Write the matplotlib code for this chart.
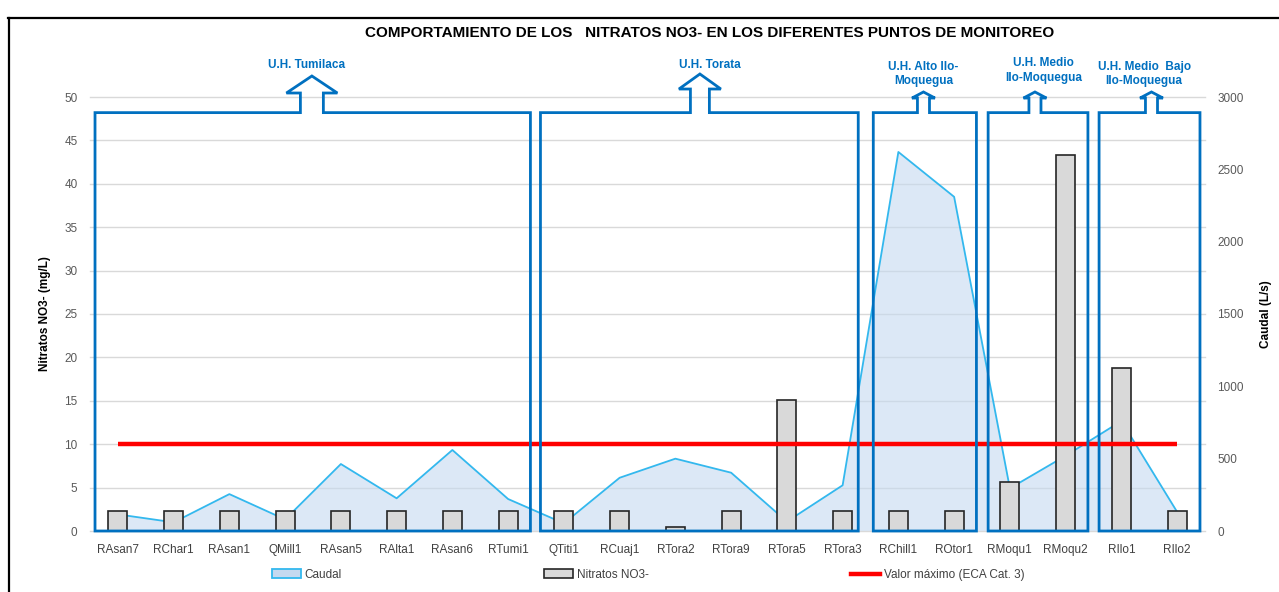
import matplotlib
matplotlib.use("Agg")
import matplotlib.pyplot as plt
from matplotlib.path import Path
from matplotlib.patches import PathPatch, Patch
from matplotlib.lines import Line2D
from matplotlib.ticker import MultipleLocator
import numpy as np

plt.rcParams['font.family'] = ['Liberation Sans', 'DejaVu Sans']

# ---------------- data ----------------
categories = ["RAsan7", "RChar1", "RAsan1", "QMill1", "RAsan5", "RAlta1", "RAsan6", "RTumi1",
              "QTiti1", "RCuaj1", "RTora2", "RTora9", "RTora5", "RTora3",
              "RChill1", "ROtor1", "RMoqu1", "RMoqu2", "RIlo1", "RIlo2"]
nitratos = [2.3, 2.3, 2.3, 2.3, 2.3, 2.3, 2.3, 2.3,
            2.3, 2.3, 0.5, 2.3, 15.1, 2.3,
            2.3, 2.3, 5.7, 43.3, 18.8, 2.3]
caudal = [115, 60, 255, 80, 463, 226, 560, 221,
          53, 368, 500, 403, 65, 316,
          2620, 2310, 295, 520, 760, 132]
eca_max = 10
units = ["U.H. Tumilaca", "U.H. Torata", "U.H. Alto Ilo-\nMoquegua",
         "U.H. Medio\nIlo-Moquegua", "U.H. Medio  Bajo\nIlo-Moquegua"]
left_ticks = list(range(0, 51, 5))
right_ticks = list(range(0, 3001, 500))

title = "COMPORTAMIENTO DE LOS   NITRATOS NO3- EN LOS DIFERENTES PUNTOS DE MONITOREO"

# ---------------- layout ----------------
W, H = 1279, 592
fig = plt.figure(figsize=(W / 100, H / 100), dpi=100)
fig.patch.set_facecolor("white")

L, R, T, B = 90, 1205, 97, 531
ax2 = fig.add_axes([L / W, 1 - B / H, (R - L) / W, (B - T) / H])
ax = ax2.twinx()  # shares x
ax.set_zorder(ax2.get_zorder() + 1)
ax.patch.set_visible(False)

x = np.arange(len(categories))

# caudal area (right axis) drawn on ax2 (bottom layer)
ax2.fill_between(x, caudal, 0, facecolor="#c5d9f0", alpha=0.6, lw=0, zorder=2)
ax2.plot(x, caudal, color="#33b8ee", lw=1.3, zorder=3)
ax2.set_ylim(0, 3000)
ax2.set_xlim(-0.5, len(categories) - 0.5)
ax2.set_yticks(right_ticks)
ax2.yaxis.tick_right()
ax2.yaxis.set_label_position("right")
ax2.tick_params(axis="y", length=0, labelsize=8.5, labelcolor="#595959", pad=9)
ax2.set_xticks(x)
ax2.set_xticklabels(categories)
ax2.tick_params(axis="x", length=0, labelsize=8.5, labelcolor="#404040", pad=16)
for lab in ax2.get_xticklabels():
    lab.set_verticalalignment("baseline")
ax2.set_ylabel("Caudal (L/s)", fontsize=8.5, fontweight="bold", labelpad=11.5)
for s in ax2.spines.values():
    s.set_visible(False)

# gridlines at the left-axis tick levels (behind the area)
for v in left_ticks:
    ax2.plot([0, 1], [v, v], transform=ax.get_yaxis_transform(), color="#d9d9d9",
             lw=1.0, zorder=0.5, clip_on=False)

# bars and ECA line on ax (left axis, top layer)
ax.bar(x, nitratos, width=0.34, color="#d9d9d9", edgecolor="#262626", lw=1.2, zorder=3)
ax.plot([x[0], x[-1]], [eca_max, eca_max], color="#ff0000", lw=3.2, zorder=4,
        solid_capstyle="butt")
ax.set_ylim(0, 50)
ax.set_xlim(-0.5, len(categories) - 0.5)
ax.yaxis.tick_left()
ax.yaxis.set_label_position("left")
ax.set_yticks(left_ticks)
ax.tick_params(axis="y", length=0, labelsize=8.5, labelcolor="#595959", pad=9)
ax.tick_params(axis="x", length=0, labelbottom=False)
ax.set_ylabel("Nitratos NO3- (mg/L)", fontsize=8.5, fontweight="bold", labelpad=9.5)
for s in ax.spines.values():
    s.set_visible(False)

# ---------------- unit callout boxes ----------------
blue = "#0070c0"
# (left, right, top, arrow cx, shaft half, head half, head base, tip, label x, label y)
boxes = [
    (-0.41, 7.40, 48.2, 3.48, 0.206, 0.457, 50.46, 52.42, 3.39, 53.69),
    (7.58, 13.28, 48.2, 10.44, 0.17, 0.376, 50.92, 52.65, 10.61, 53.69),
    (13.55, 15.40, 48.2, 14.45, 0.108, 0.206, 49.88, 50.58, 14.45, 52.65),
    (15.61, 17.40, 48.2, 16.45, 0.108, 0.206, 49.88, 50.58, 16.60, 53.05),
    (17.60, 19.41, 48.2, 18.54, 0.108, 0.206, 49.88, 50.58, 18.41, 52.65),
]
for (bl, br, bt, cx, sw, hw, hb, tip, lx, ly), lab in zip(boxes, units):
    verts = [(bl, 0), (bl, bt), (cx - sw, bt), (cx - sw, hb), (cx - hw, hb), (cx, tip),
             (cx + hw, hb), (cx + sw, hb), (cx + sw, bt), (br, bt), (br, 0), (bl, 0)]
    codes = [Path.MOVETO] + [Path.LINETO] * (len(verts) - 2) + [Path.CLOSEPOLY]
    pp = PathPatch(Path(verts, codes), facecolor="none", edgecolor=blue, lw=2.0,
                   zorder=6, clip_on=False, joinstyle="miter")
    ax.add_patch(pp)
    ax.text(lx, ly, lab, ha="center", va="center", color=blue, fontsize=8.5,
            fontweight="bold", linespacing=1.25, clip_on=False, zorder=7)

# ---------------- title ----------------
fig.text(710 / W, 1 - 33 / H, title, ha="center", va="center", fontsize=11,
         fontweight="bold", color="#000000")

# ---------------- legend ----------------
handles = [Patch(facecolor="#c5d9f0", edgecolor="#33b8ee", lw=1.3),
           Patch(facecolor="#d9d9d9", edgecolor="#262626", lw=1.2),
           Line2D([0], [0], color="#ff0000", lw=3.2)]
labels = ["Caudal", "Nitratos NO3-", "Valor máximo (ECA Cat. 3)"]
leg = fig.legend(handles, labels, loc="center", bbox_to_anchor=(648 / W, 1 - 575 / H),
                 ncol=3, frameon=False, fontsize=8.5, handlelength=2.5, handleheight=0.8,
                 handletextpad=0.3, columnspacing=17.1)
for t in leg.get_texts():
    t.set_color("#404040")

# ---------------- outer frame ----------------
fig.add_artist(Line2D([8.5 / W, 8.5 / W], [0, 1 - 17.5 / H], color="black", lw=1.6,
                      transform=fig.transFigure))
fig.add_artist(Line2D([8 / W, 1], [1 - 17.5 / H, 1 - 17.5 / H], color="black", lw=1.6,
                      transform=fig.transFigure))

fig.savefig("out.png", dpi=100, facecolor="white")
